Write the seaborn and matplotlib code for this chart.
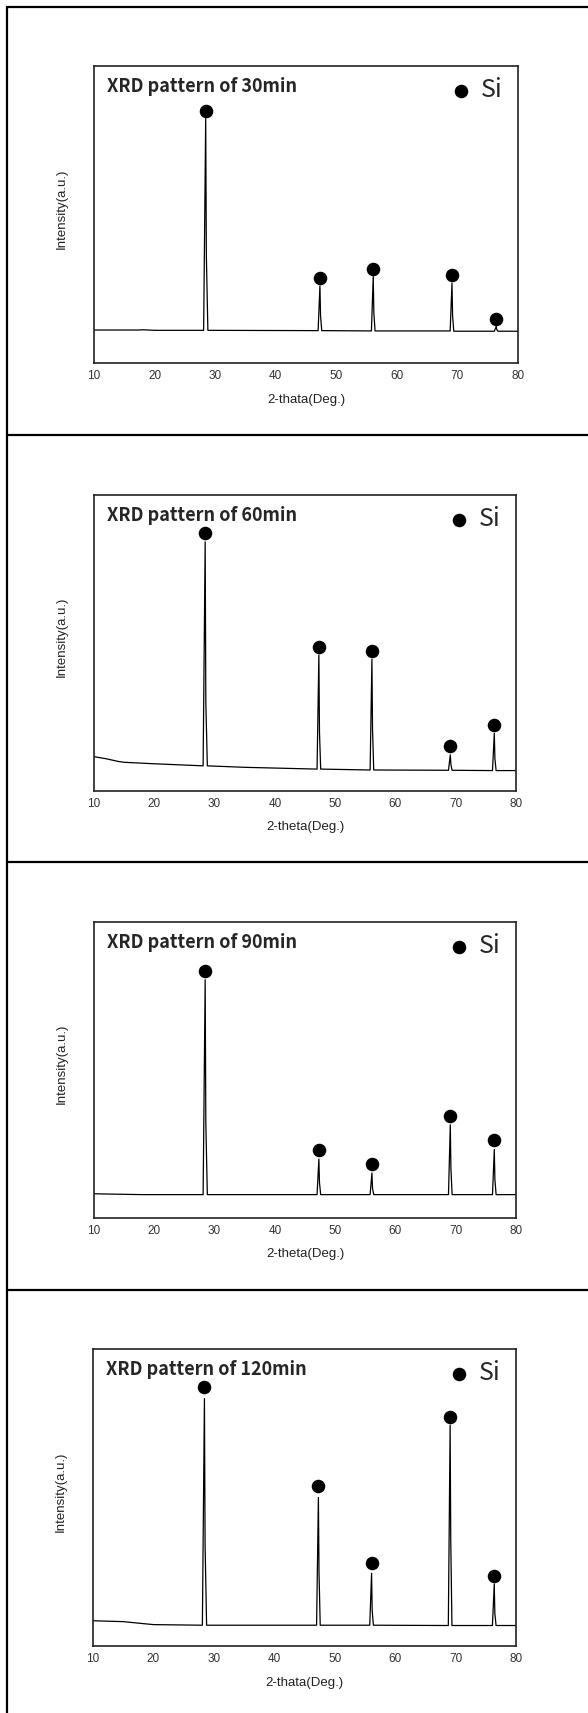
import matplotlib
matplotlib.use("Agg")
import matplotlib.pyplot as plt
from matplotlib.lines import Line2D
import seaborn as sns

# XRD traces (2-theta in deg, intensity in a.u. scaled 0-100)
titles = ["XRD pattern of 30min", "XRD pattern of 60min",
          "XRD pattern of 90min", "XRD pattern of 120min"]
xlabels = ["2-thata(Deg.)", "2-theta(Deg.)", "2-theta(Deg.)", "2-thata(Deg.)"]

trace30_x = [10, 17.5, 18, 20, 28.1, 28.44, 28.55, 28.8, 47.0, 47.3, 47.4, 47.6,
             55.8, 56.1, 56.2, 56.4, 68.8, 69.1, 69.2, 69.4, 76.1, 76.4, 76.5, 76.7, 80]
trace30_y = [11.1, 11.1, 11.2, 11.0, 11.0, 82.3, 36, 11.0, 10.9, 26.0, 16, 10.9,
             10.8, 29.1, 17, 10.8, 10.8, 26.9, 16, 10.7, 10.7, 12.3, 11.2, 10.7, 10.7]

trace60_x = [10, 12, 14, 15, 20, 28.1, 28.44, 28.55, 28.8, 35, 47.0, 47.3, 47.4, 47.6,
             55.8, 56.1, 56.2, 56.4, 68.8, 69.1, 69.2, 69.4, 76.1, 76.4, 76.5, 76.7, 80]
trace60_y = [11.6, 10.9, 10.0, 9.7, 9.2, 8.5, 84.2, 30, 8.5, 8.0, 7.4, 46.0, 20, 7.4,
             7.1, 44.5, 21, 7.1, 7.0, 12.2, 9.0, 7.0, 6.9, 19.5, 11, 6.9, 6.9]

trace90_x = [10, 12, 18, 28.1, 28.44, 28.55, 28.8, 47.0, 47.3, 47.4, 47.6,
             55.8, 56.1, 56.2, 56.4, 68.8, 69.1, 69.2, 69.4, 76.1, 76.4, 76.5, 76.7, 80]
trace90_y = [8.2, 8.1, 7.9, 7.9, 80.5, 32, 7.9, 7.9, 19.9, 12, 7.9,
             7.9, 15.2, 10, 7.9, 7.9, 31.5, 17, 7.9, 7.9, 23.1, 13, 7.9, 7.9]

trace120_x = [10, 15, 20, 28.1, 28.44, 28.55, 28.8, 47.0, 47.3, 47.4, 47.6,
              55.8, 56.1, 56.2, 56.4, 68.8, 69.1, 69.2, 69.4, 76.1, 76.4, 76.5, 76.7, 80]
trace120_y = [8.5, 8.2, 7.2, 7.0, 83.3, 34, 7.0, 7.0, 50.0, 25, 7.0,
              7.0, 24.5, 12, 7.0, 6.9, 74.4, 36, 6.9, 6.9, 20.9, 11, 6.9, 6.9]

# Si peak markers
si_pos = [28.44, 47.3, 56.1, 69.1, 76.4]
si_mark30 = [84.9, 28.6, 31.6, 29.7, 14.9]
si_mark60 = [87.3, 48.5, 47.2, 15.2, 22.2]
si_mark90 = [83.4, 23.0, 18.3, 34.6, 26.5]
si_mark120 = [87.2, 53.9, 28.1, 77.1, 23.7]

traces = [(trace30_x, trace30_y), (trace60_x, trace60_y),
          (trace90_x, trace90_y), (trace120_x, trace120_y)]
marks = [si_mark30, si_mark60, si_mark90, si_mark120]

sns.set_style("white")
plt.rcParams["font.family"] = ["Liberation Sans", "DejaVu Sans"]

W, H = 588, 1713
fig = plt.figure(figsize=(W / 100, H / 100), dpi=100)

# axes boxes in pixels: left, right, top, bottom
boxes = [(94, 518, 66, 363), (94, 516, 495, 791),
         (94, 516, 922, 1218), (93, 516, 1349, 1646)]

for i, (l, r, t, b) in enumerate(boxes):
    ax = fig.add_axes([l / W, 1 - b / H, (r - l) / W, (b - t) / H])
    tx, ty = traces[i]
    sns.lineplot(x=tx, y=ty, sort=False, estimator=None, color="black",
                 lw=0.9, ax=ax)
    sns.scatterplot(x=si_pos, y=marks[i], color="black", s=95, linewidth=0,
                    label="Si", ax=ax, zorder=3)
    ax.set_xlim(10, 80)
    ax.set_ylim(0, 100)
    ax.set_xticks(range(10, 81, 10))
    ax.set_yticks([])
    ax.tick_params(axis="x", direction="in", length=6, width=1.2, pad=5,
                   labelsize=8.5, labelcolor="#333333", color="#222222")
    for sp in ax.spines.values():
        sp.set_linewidth(1.2)
        sp.set_color("#222222")
    ax.set_xlabel(xlabels[i], fontsize=9.5, color="#222222")
    ax.xaxis.set_label_coords(0.5, -0.103)
    ax.set_ylabel("Intensity(a.u.)", fontsize=9.5, color="#222222")
    ax.yaxis.set_label_coords(-26 / (r - l), 0.52)
    ax.text(0.03, 0.912, titles[i], transform=ax.transAxes, fontsize=13,
            fontweight="bold", family=["Noto Sans CJK KR", "DejaVu Sans"],
            va="baseline", ha="left")
    ax.legend(loc="upper right", bbox_to_anchor=(0.964, 0.962), frameon=False,
              borderpad=0, borderaxespad=0, handlelength=1.0, handletextpad=0.3,
              prop={"family": ["Noto Sans CJK KR", "DejaVu Sans"], "size": 18})

# cell borders of the original table
border_kw = dict(color="black", lw=1.6, transform=fig.transFigure)
fig.add_artist(Line2D([7 / W, 7 / W], [1 - 7 / H, 0], **border_kw))
for yb in [7, 435, 862, 1290]:
    fig.add_artist(Line2D([7 / W, 1], [1 - yb / H, 1 - yb / H], **border_kw))

fig.savefig("out.png", dpi=100, facecolor="white")
